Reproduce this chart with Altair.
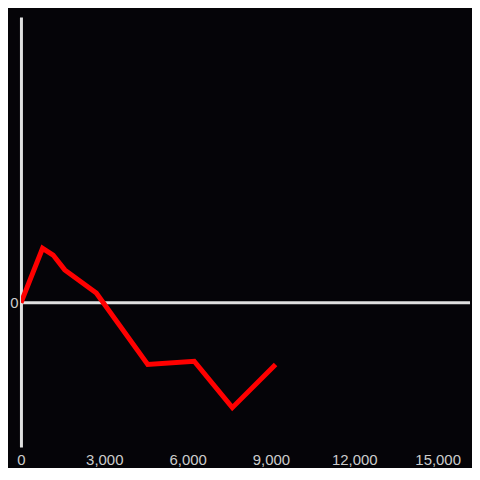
import altair as alt
import pandas as pd

x_vals = [0, 778, 1158, 1577, 2713, 4563, 6237, 7609, 9165]
y_vals = [0, 0.381, 0.334, 0.23, 0.068, -0.432, -0.409, -0.734, -0.432]
x_ticks = [0, 3000, 6000, 9000, 12000, 15000]

df = pd.DataFrame({"x": x_vals, "y": y_vals})
zero = pd.DataFrame({"y": [0]})

xscale = alt.Scale(domain=[0, 16165], nice=False, zero=False)
yscale = alt.Scale(domain=[-1.01, 2.0], nice=False, zero=False)

x_axis = alt.Axis(values=x_ticks, format=",.0f", title=None, domain=False, ticks=False,
                  grid=False, labelColor="#cccccc", labelFontSize=15,
                  labelFont="Liberation Sans", labelPadding=5, labelFlush=False)
y_axis = alt.Axis(values=[0], format=".0f", title=None, domain=True, domainColor="#e0e0e0",
                  domainWidth=3, ticks=False, grid=False, labelColor="#cccccc",
                  labelFontSize=15, labelFont="Liberation Sans", labelPadding=3)

line = alt.Chart(df).mark_line(color="#ff0000", strokeWidth=5, clip=True).encode(
    x=alt.X("x:Q", scale=xscale, axis=x_axis),
    y=alt.Y("y:Q", scale=yscale, axis=y_axis),
)

rule = alt.Chart(zero).mark_rule(color="#e0e0e0", strokeWidth=3).encode(
    y=alt.Y("y:Q", scale=yscale, axis=y_axis)
)

chart = (rule + line).properties(
    width=451, height=432, background="#050408",
    padding={"left": 1, "top": 8, "right": 0, "bottom": 0},
).configure_view(strokeWidth=0)

chart.save("out.html", embed_options={"renderer": "svg", "actions": False})
